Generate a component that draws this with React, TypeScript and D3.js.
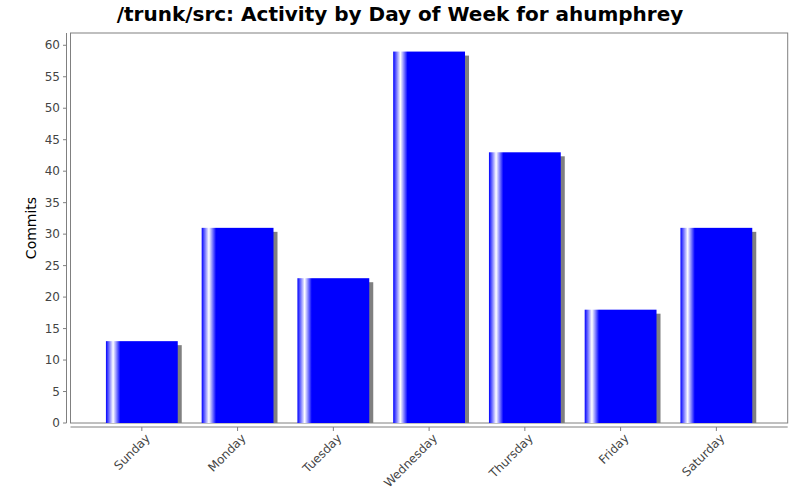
import React from 'react';
import * as d3 from 'd3';

const days = ['Sunday', 'Monday', 'Tuesday', 'Wednesday', 'Thursday', 'Friday', 'Saturday'];
const commits = [13, 31, 23, 59, 43, 18, 31];
const yTicks = [0, 5, 10, 15, 20, 25, 30, 35, 40, 45, 50, 55, 60];
const title = '/trunk/src: Activity by Day of Week for ahumphrey';
const yLabel = 'Commits';

const W = 800;
const H = 500;
const plot = { left: 70.5, top: 33, right: 787.7, bottom: 423 };
const font = '"DejaVu Sans", Verdana, sans-serif';

export default function App() {
  const x = d3.scaleBand<string>()
    .domain(days)
    .range([plot.left, plot.right])
    .paddingInner(0.25)
    .paddingOuter(0.37);

  const y = d3.scaleLinear()
    .domain([0, 61.95])
    .range([plot.bottom, plot.top]);

  const bw = x.bandwidth();

  return (
    <svg width={W} height={H} style={{ display: 'block', position: 'absolute', left: 0, top: 0 }}>
      <defs>
        <linearGradient id="barGrad" x1="0" x2="1" y1="0" y2="0">
          <stop offset="0" stopColor="#0000ff" />
          <stop offset="0.1" stopColor="#ffffff" />
          <stop offset="0.2" stopColor="#0000ff" />
          <stop offset="1" stopColor="#0000ff" />
        </linearGradient>
        <clipPath id="plotClip">
          <rect x={plot.left} y={plot.top} width={plot.right - plot.left} height={plot.bottom - plot.top} />
        </clipPath>
      </defs>
      <rect width={W} height={H} fill="#fff" />

      <text x={W / 2} y={21} textAnchor="middle" fontFamily={font} fontWeight="bold" fontSize={20} fill="#000">
        {title}
      </text>

      {/* plot border */}
      <rect x={plot.left} y={plot.top} width={plot.right - plot.left} height={plot.bottom - plot.top}
        fill="#fff" stroke="#808080" strokeWidth={1} />

      {/* bars with shadow */}
      <g clipPath="url(#plotClip)">
        {days.map((d, i) => (
          <rect key={'s' + d} x={x(d)! + 4} y={y(commits[i]) + 4} width={bw}
            height={plot.bottom - y(commits[i]) - 4} fill="#808080" />
        ))}
        {days.map((d, i) => (
          <rect key={'b' + d} x={x(d)!} y={y(commits[i])} width={bw}
            height={plot.bottom - y(commits[i])} fill="url(#barGrad)" />
        ))}
      </g>

      {/* y axis */}
      <line x1={66.5} x2={66.5} y1={plot.top} y2={plot.bottom} stroke="#808080" />
      {yTicks.map(t => (
        <g key={t}>
          <line x1={63} x2={66.5} y1={y(t)} y2={y(t)} stroke="#808080" />
          <text x={60} y={y(t)} dy="0.35em" textAnchor="end" fontFamily={font} fontSize={12} fill="#444">
            {t}
          </text>
        </g>
      ))}
      <text transform={`translate(36,${(plot.top + plot.bottom) / 2}) rotate(-90)`} textAnchor="middle"
        fontFamily={font} fontSize={14} fill="#000">
        {yLabel}
      </text>

      {/* x axis */}
      <line x1={plot.left} x2={plot.right} y1={427} y2={427} stroke="#808080" />
      {days.map(d => {
        const cx = x(d)! + bw / 2;
        return (
          <g key={d}>
            <line x1={cx} x2={cx} y1={427} y2={431} stroke="#808080" />
            <text transform={`translate(${cx + 6},${436}) rotate(-45)`} textAnchor="end" dy="0.35em"
              fontFamily={font} fontSize={12} fill="#444">
              {d}
            </text>
          </g>
        );
      })}
    </svg>
  );
}
